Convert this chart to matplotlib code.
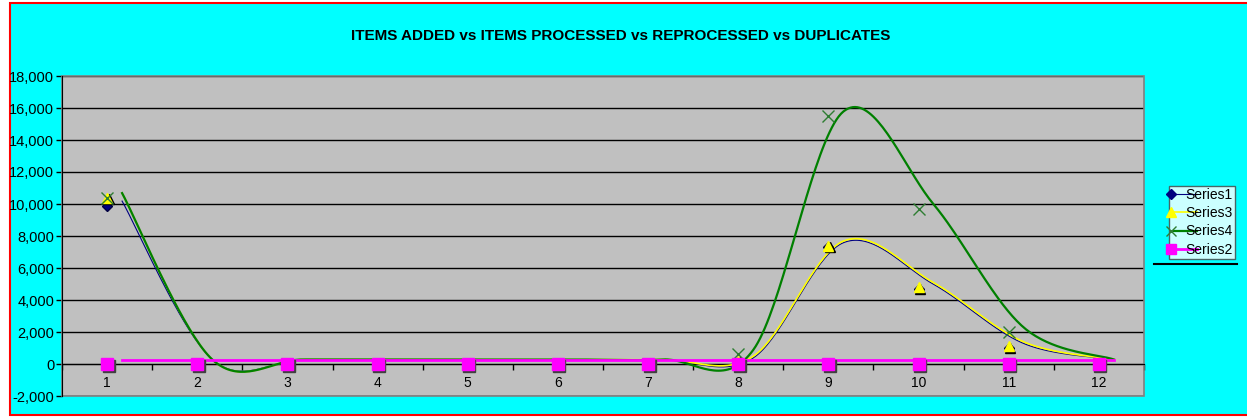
import numpy as np
import matplotlib
matplotlib.use("Agg")
import matplotlib.pyplot as plt
from matplotlib import transforms
from matplotlib.lines import Line2D
from matplotlib.patches import Rectangle
from matplotlib.legend_handler import HandlerLine2DCompound

plt.rcParams['font.family'] = ['Liberation Sans', 'DejaVu Sans']

title = "ITEMS ADDED vs ITEMS PROCESSED vs REPROCESSED vs DUPLICATES"
cats = list(range(1, 13))
series1 = [9900, 0, 0, 0, 0, 0, 0, 100, 7300, 4700, 1000, 0]
series3 = [10400, 0, 0, 0, 0, 0, 0, 200, 7400, 4800, 1100, 0]
series4 = [10400, 0, 0, 0, 0, 0, 0, 600, 15500, 9700, 2000, 0]
series2 = [0, 0, 0, 0, 0, 0, 0, 0, 0, 0, 0, 0]
yticks = list(range(-2000, 18001, 2000))

W, H = 1247, 419


def smooth(xs, ys, n=40):
    # excel style smoothed line (catmull-rom as bezier)
    pts = np.column_stack([xs, ys]).astype(float)
    p = np.vstack([pts[0], pts, pts[-1]])
    t = np.linspace(0, 1, n)[:, None]
    out = []
    for i in range(1, len(p) - 2):
        p0, p1, p2, p3 = p[i - 1], p[i], p[i + 1], p[i + 2]
        c1 = p1 + (p2 - p0) / 6
        c2 = p2 - (p3 - p1) / 6
        out.append((1 - t) ** 3 * p1 + 3 * (1 - t) ** 2 * t * c1 + 3 * (1 - t) * t ** 2 * c2 + t ** 3 * p2)
    arr = np.vstack(out)
    return arr[:, 0], arr[:, 1]


class LeftMarker(HandlerLine2DCompound):
    # marker sits at the left end of the legend line, like excel
    def get_xdata(self, legend, xdescent, ydescent, width, height, fontsize):
        xd = np.array([-xdescent + 0.12 * width, -xdescent + width])
        return xd, np.array([-xdescent])


fig = plt.figure(figsize=(W / 100, H / 100), dpi=100)
fig.patch.set_facecolor('white')
fig.patches.append(Rectangle((10 / W, 1 - 415 / H), 1.05, (415 - 3) / H, transform=fig.transFigure,
                             facecolor='#00FFFF', edgecolor='#FF0000', lw=1.5, zorder=-5))

ax = fig.add_axes([62 / W, 1 - 396 / H, (1144 - 62) / W, (396 - 76) / H])
ax.set_facecolor('#C0C0C0')
ax.set_xlim(0.5, 12.5)
ax.set_ylim(-2000, 18000)
ax.set_yticks(yticks)
ax.set_yticklabels([f"{v:,}" for v in yticks], fontsize=10.5)
ax.yaxis.grid(True, color='black', lw=1)
ax.set_axisbelow(True)
ax.tick_params(axis='y', length=4, width=1, pad=1.5)

ax.spines['bottom'].set_position(('data', 0))
ax.spines['bottom'].set_color('black')
ax.spines['left'].set_color('black')
ax.spines['top'].set_visible(False)
ax.spines['right'].set_visible(False)
ax.add_patch(Rectangle((0, 0), 1, 1, transform=ax.transAxes, fill=False,
                       edgecolor='#808080', lw=1.2, zorder=2.5, clip_on=False))

ax.set_xticks(cats)
ax.set_xticklabels([str(c) for c in cats], fontsize=10)
ax.set_xticks([c + 0.5 for c in range(0, 13)], minor=True)
ax.tick_params(axis='x', which='major', length=0, pad=8.5)
ax.tick_params(axis='x', which='minor', length=4, width=1, direction='out')

# lines are drawn a little right/up from the markers, like the original
line_tr = transforms.offset_copy(ax.transData, fig=fig, x=15, y=4.5, units='dots')
shadow_tr = transforms.offset_copy(ax.transData, fig=fig, x=1.5, y=-1.5, units='dots')

x1, y1 = smooth(cats, series1)
x3, y3 = smooth(cats, series3)
x4, y4 = smooth(cats, series4)
x2, y2 = smooth(cats, series2)
ax.plot(x1, y1, color='#000080', lw=0.8, transform=line_tr, zorder=3)
ax.plot(x3, y3, color='#FFFF00', lw=1.2, transform=line_tr, zorder=3.1)
ax.plot(x4, y4, color='#008000', lw=1.6, transform=line_tr, zorder=3.2)
ax.plot(x2, y2, color='#FF00FF', lw=2, transform=line_tr, zorder=3.3)

ax.plot(cats, series1, ls='none', marker='D', ms=5, color='#000080', mec='#000040', zorder=4)
ax.plot(cats, series3, ls='none', marker='^', ms=7, color='black', mec='black', transform=shadow_tr, zorder=4.1)
ax.plot(cats, series3, ls='none', marker='^', ms=7, color='#FFFF00', mec='#FFFF00', zorder=4.2)
ax.plot(cats, series4, ls='none', marker='x', ms=8, mew=1, color='#2E7D32', zorder=4.3)
ax.plot(cats, series2, ls='none', marker='s', ms=8, color='#404040', mec='#404040', transform=shadow_tr, zorder=4.4)
ax.plot(cats, series2, ls='none', marker='s', ms=8, color='#FF00FF', mec='#FF00FF', zorder=4.5)

fig.text(621 / W, 1 - 36 / H, title, ha='center', va='center', fontsize=11, fontweight='bold')

handles = [
    Line2D([], [], color='#000080', lw=0.8, marker='D', ms=5, mfc='#000080', mec='#000080'),
    Line2D([], [], color='#FFFF00', lw=1.2, marker='^', ms=7, mfc='#FFFF00', mec='#FFFF00'),
    Line2D([], [], color='#008000', lw=1.6, marker='x', ms=7, mew=1, mec='#2E7D32'),
    Line2D([], [], color='#FF00FF', lw=2, marker='s', ms=7, mfc='#FF00FF', mec='#FF00FF'),
]
leg = fig.legend(handles, ['Series1', 'Series3', 'Series4', 'Series2'],
                 handler_map={h: LeftMarker() for h in handles},
                 loc='upper left', bbox_to_anchor=(1169 / W, 1 - 186 / H),
                 bbox_transform=fig.transFigure, fontsize=10, frameon=True,
                 fancybox=False, borderpad=0.15, borderaxespad=0, handlelength=1.9,
                 handletextpad=-0.85, labelspacing=0.3)
leg.get_frame().set_edgecolor('#404040')
leg.get_frame().set_linewidth(1)
fig.add_artist(Line2D([1154 / W, 1237 / W], [1 - 264 / H, 1 - 264 / H], color='black',
                      lw=1.5, transform=fig.transFigure))

fig.savefig('out.png', dpi=100)
